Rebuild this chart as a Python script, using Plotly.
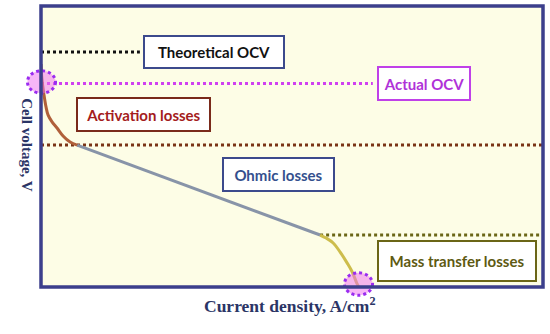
import plotly.graph_objects as go

# Polarization curve segments (current density, cell voltage) - arbitrary units
act_x = [0.0, 0.002, 0.006, 0.010, 0.014, 0.022, 0.032, 0.044, 0.058, 0.072]
act_y = [0.952, 0.884, 0.820, 0.769, 0.735, 0.705, 0.679, 0.645, 0.619, 0.606]
ohm_x = [0.072, 0.556]
ohm_y = [0.606, 0.222]
mass_x = [0.556, 0.568, 0.582, 0.596, 0.610, 0.620, 0.629, 0.633]
mass_y = [0.222, 0.209, 0.188, 0.149, 0.102, 0.064, 0.017, 0.0]

# Reference levels
theoretical_ocv = 1.0036
actual_ocv = 0.869
activation_level = 0.606
mass_level = 0.222

labels = ["Theoretical OCV", "Actual OCV", "Activation losses", "Ohmic losses", "Mass transfer losses"]

fig = go.Figure()

def dotted(x, y, color):
    fig.add_trace(go.Scatter(x=x, y=y, mode="lines", line=dict(color=color, width=3, dash="dot"),
                             hoverinfo="skip", showlegend=False))

dotted([0, 0.197], [theoretical_ocv, theoretical_ocv], "#111111")
dotted([0, 0.661], [actual_ocv, actual_ocv], "#d040f0")
dotted([0, 1.0], [activation_level, activation_level], "#7a3416")
dotted([0.556, 1.0], [mass_level, mass_level], "#6b6616")

fig.add_trace(go.Scatter(x=ohm_x, y=ohm_y, mode="lines", line=dict(color="#8894a8", width=3),
                         showlegend=False))
fig.add_trace(go.Scatter(x=act_x, y=act_y, mode="lines", line=dict(color="#b0603a", width=3, shape="spline"),
                         showlegend=False))
fig.add_trace(go.Scatter(x=mass_x, y=mass_y, mode="lines", line=dict(color="#cdbd4c", width=3, shape="spline"),
                         showlegend=False))

# circles (paper coords so they are not clipped by the plot area)
for cx, cy in [(0.001, 0.7295), (0.6325, 0.0107)]:
    fig.add_shape(type="circle", xref="paper", yref="paper",
                  x0=cx - 0.028, x1=cx + 0.028, y0=cy - 0.040, y1=cy + 0.040,
                  line=dict(color="#9a2cf0", width=3, dash="dot"),
                  fillcolor="rgba(240,110,240,0.5)", layer="above")

# frame
fig.add_shape(type="rect", xref="paper", yref="paper", x0=0, x1=1, y0=0, y1=1,
              line=dict(color="#3c3f8c", width=3.5), layer="above")

boxes = [
    (labels[0], 0.345, 1.0036, 138, 30, "#111111", "#3c4a8c"),
    (labels[1], 0.763, 0.869, 90, 31, "#b032d8", "#c040e8"),
    (labels[2], 0.204, 0.737, 131, 31, "#a41c1c", "#7a2a1a"),
    (labels[3], 0.473, 0.480, 109, 31, "#34508e", "#3c4a8c"),
    (labels[4], 0.829, 0.111, 156, 38, "#5e5a12", "#6b6616"),
]
for text, x, y, w, h, fc, bc in boxes:
    fig.add_annotation(x=x, y=y, xref="x", yref="y", text="<b>" + text + "</b>", showarrow=False,
                       width=w, height=h, bgcolor="white", bordercolor=bc, borderwidth=2, borderpad=0,
                       font=dict(family="Lato", size=15, color=fc), align="center", valign="middle")

fig.add_annotation(x=-0.048, y=0.505, xref="paper", yref="paper", text="<b>Cell voltage, V</b>",
                   textangle=90, showarrow=False,
                   font=dict(family="Liberation Serif", size=15, color="#2b3566"))
fig.add_annotation(x=0.496, y=-0.110, xref="paper", yref="paper",
                   text="<b>Current density, A/cm<sup>2</sup></b>", showarrow=False,
                   font=dict(family="Liberation Serif", size=17.5, color="#2b3566"))

fig.update_xaxes(range=[0, 1], showticklabels=False, showgrid=False, zeroline=False, ticks="")
fig.update_yaxes(range=[0, 1.2], showticklabels=False, showgrid=False, zeroline=False, ticks="")
fig.update_layout(width=550, height=334, margin=dict(l=41, r=7, t=6, b=47),
                  plot_bgcolor="#fdfde6", paper_bgcolor="white", showlegend=False)

fig.write_html("out.html", config={"displayModeBar": False},
               post_script="document.body.style.margin='0';")
